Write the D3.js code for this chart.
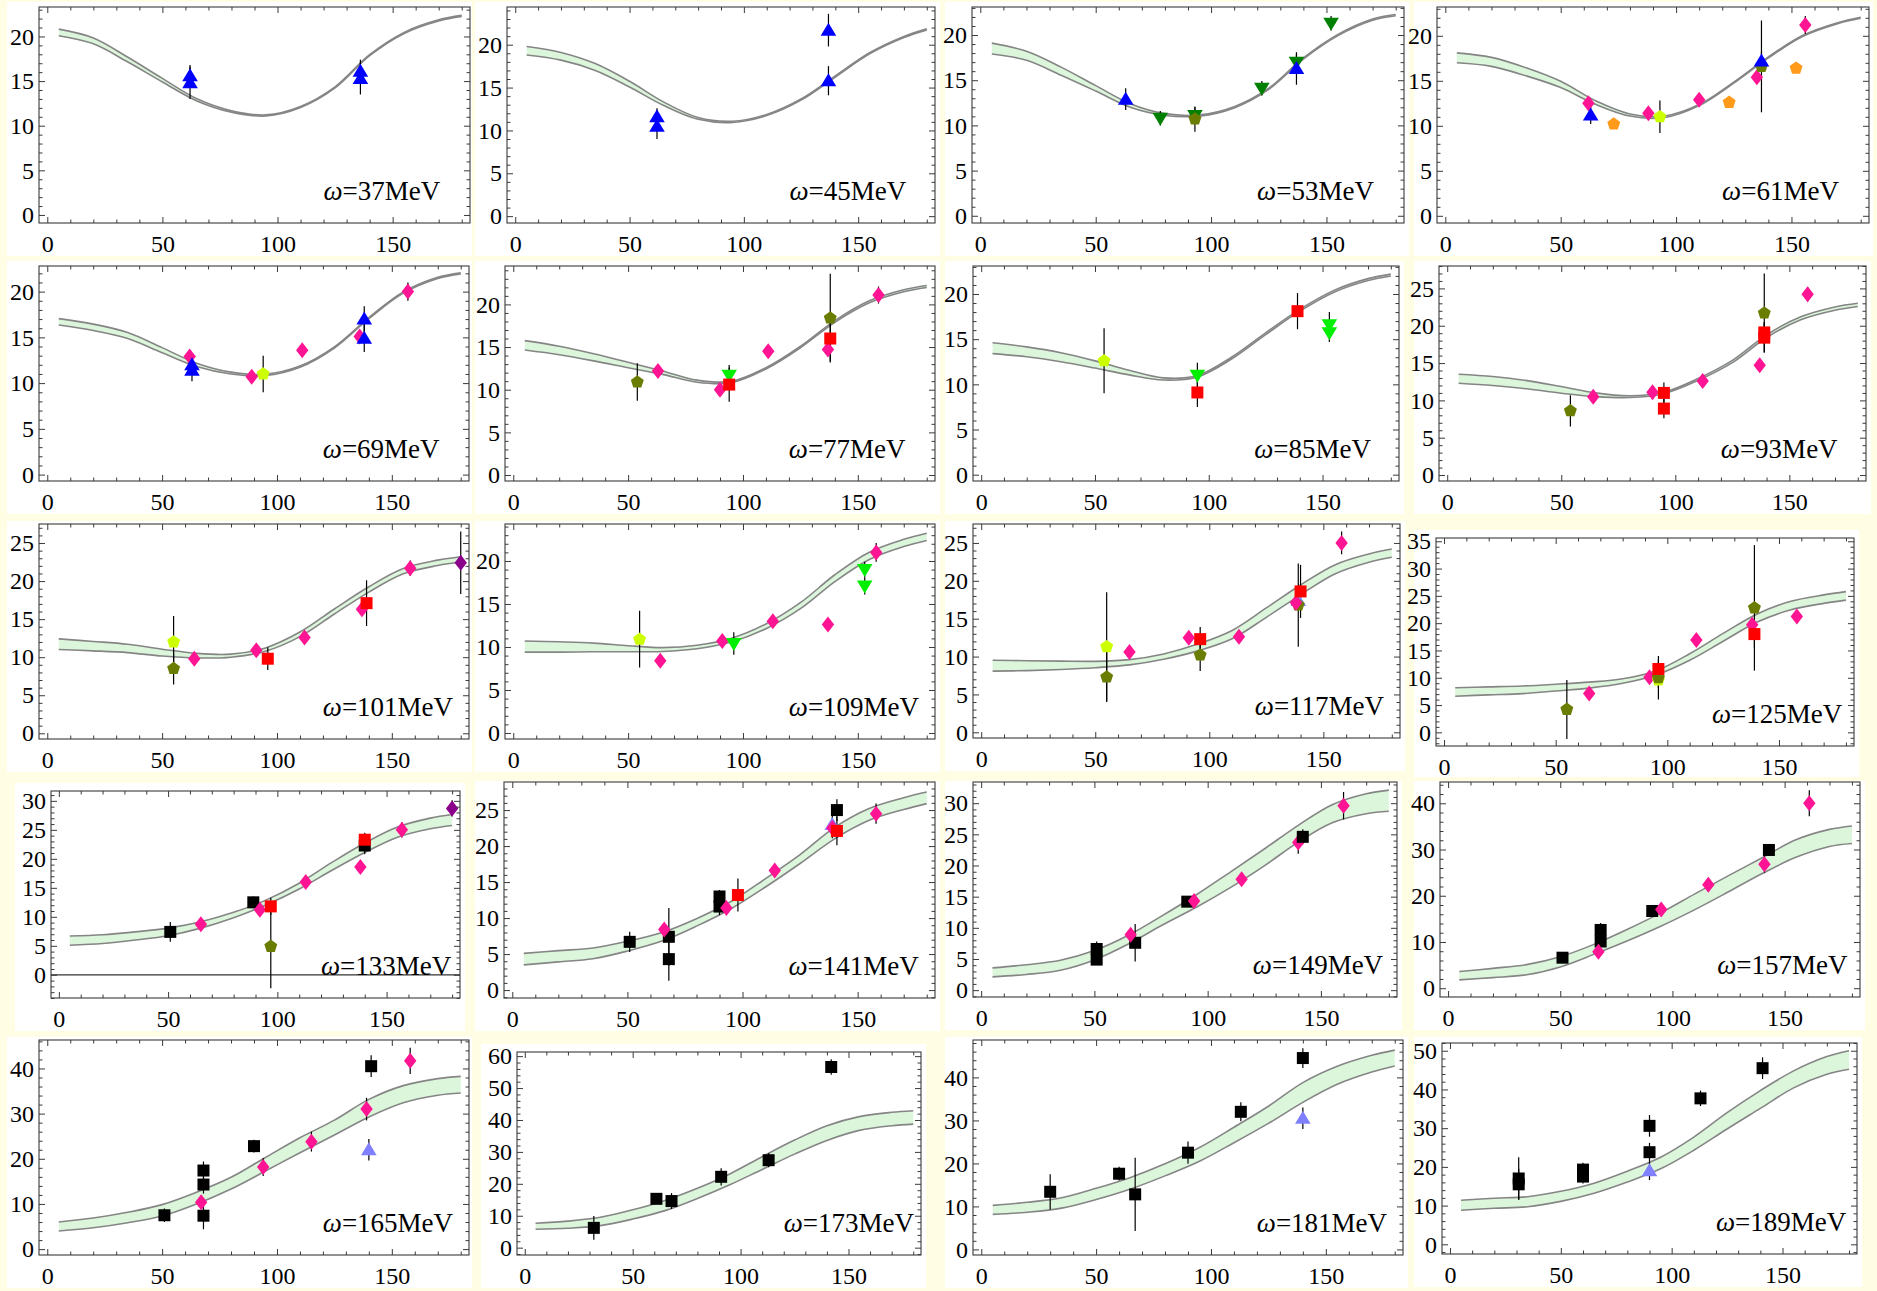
<!DOCTYPE html>
<html>
<head>
<meta charset="utf-8">
<script src="https://cdn.jsdelivr.net/npm/d3@7"></script>
<style>
  html, body { margin: 0; padding: 0; background: #fffde4; }
  svg { display: block; }
  text { font-family: "Liberation Serif", "Times New Roman", "DejaVu Serif", serif; }
</style>
</head>
<body>
<svg id="chart" width="1877" height="1291"></svg>
<script>
// ---------- data ----------
// photon energies of the twenty panels (MeV)
const energies = [37, 45, 53, 61, 69, 77, 85, 93, 101, 109, 117, 125, 133, 141, 149, 157, 165, 173, 181, 189];

// scattering angles (deg) at which the theory band is tabulated
const angles = [5, 20, 35, 50, 65, 80, 95, 110, 125, 140, 155, 170, 180];

// theory band: lower / upper edge at each angle (nb/sr)
const lo37 = [20.08, 19.17, 17.13, 14.90, 12.78, 11.52, 11.09, 12.04, 14.24, 17.84, 20.34, 21.74, 22.24];
const hi37 = [20.82, 19.83, 17.67, 15.30, 13.02, 11.68, 11.21, 12.16, 14.36, 17.96, 20.46, 21.86, 22.36];
const lo45 = [18.80, 18.20, 17.00, 15.07, 12.90, 11.30, 10.93, 11.73, 13.53, 16.23, 18.93, 20.83, 21.73];
const hi45 = [19.80, 19.10, 17.80, 15.73, 13.30, 11.50, 11.07, 11.87, 13.67, 16.37, 19.07, 20.97, 21.87];
const lo53 = [17.90, 17.20, 15.55, 13.80, 12.00, 11.10, 11.03, 11.93, 13.98, 17.33, 19.93, 21.63, 22.13];
const hi53 = [19.10, 18.20, 16.45, 14.40, 12.40, 11.30, 11.17, 12.07, 14.12, 17.47, 20.07, 21.77, 22.27];
const lo61 = [17.00, 16.60, 15.55, 14.25, 12.40, 11.08, 10.92, 12.24, 14.74, 17.54, 19.94, 21.34, 21.94];
const hi61 = [18.10, 17.60, 16.45, 14.95, 12.80, 11.32, 11.08, 12.36, 14.86, 17.66, 20.06, 21.46, 22.06];
const lo69 = [16.35, 15.75, 14.87, 13.32, 11.82, 11.00, 10.83, 11.74, 13.84, 17.04, 19.84, 21.44, 21.94];
const hi69 = [17.05, 16.45, 15.53, 13.88, 12.18, 11.20, 10.97, 11.86, 13.96, 17.16, 19.96, 21.56, 22.06];
const lo77 = [14.65, 14.10, 13.38, 12.58, 11.80, 10.88, 10.82, 12.43, 14.92, 17.90, 20.18, 21.48, 21.98];
const hi77 = [15.75, 15.10, 14.22, 13.22, 12.20, 11.12, 10.98, 12.57, 15.08, 18.10, 20.42, 21.72, 22.22];
const lo85 = [13.40, 13.05, 12.50, 11.80, 11.05, 10.48, 10.82, 12.80, 15.50, 18.10, 20.20, 21.50, 22.00];
const hi85 = [14.60, 14.15, 13.50, 12.60, 11.55, 10.72, 10.98, 13.00, 15.70, 18.30, 20.40, 21.70, 22.20];
const lo93 = [12.30, 12.00, 11.55, 10.95, 10.50, 10.38, 10.90, 12.68, 15.05, 18.42, 20.80, 22.08, 22.58];
const hi93 = [13.50, 13.20, 12.65, 11.85, 11.00, 10.62, 11.10, 12.92, 15.35, 18.78, 21.20, 22.52, 23.02];
const lo101 = [11.00, 10.83, 10.60, 10.15, 9.90, 10.00, 10.78, 12.70, 15.67, 18.55, 20.95, 22.05, 22.50];
const hi101 = [12.40, 12.07, 11.70, 11.05, 10.50, 10.40, 11.22, 13.30, 16.33, 19.25, 21.65, 22.75, 23.20];
const lo109 = [9.40, 9.40, 9.45, 9.45, 9.48, 9.80, 10.58, 12.12, 14.45, 17.60, 20.18, 21.68, 22.38];
const hi109 = [10.70, 10.60, 10.45, 10.15, 9.92, 10.20, 11.02, 12.68, 15.15, 18.40, 21.02, 22.52, 23.22];
const lo117 = [8.08, 8.15, 8.30, 8.53, 8.90, 9.65, 10.75, 12.35, 15.18, 18.15, 20.90, 22.45, 23.10];
const hi117 = [9.52, 9.45, 9.40, 9.37, 9.60, 10.35, 11.65, 13.45, 16.42, 19.45, 22.10, 23.55, 24.20];
const lo125 = [6.62, 6.87, 7.10, 7.58, 8.10, 8.98, 10.50, 13.20, 16.68, 20.15, 22.42, 23.62, 24.22];
const hi125 = [8.18, 8.33, 8.50, 8.82, 9.20, 9.82, 11.30, 14.40, 18.12, 21.65, 23.98, 25.18, 25.78];
const lo133 = [5.10, 5.40, 6.00, 6.75, 8.05, 9.83, 12.08, 14.80, 18.02, 21.08, 23.72, 25.18, 25.75];
const hi133 = [6.70, 6.90, 7.40, 8.05, 9.15, 10.77, 12.92, 15.80, 19.38, 22.72, 25.48, 27.02, 27.65];
const lo141 = [3.50, 3.92, 4.35, 5.42, 6.80, 8.88, 11.30, 14.32, 17.58, 21.00, 23.58, 25.08, 25.90];
const hi141 = [5.10, 5.48, 5.85, 6.78, 8.00, 9.92, 12.30, 15.48, 18.82, 22.60, 25.22, 26.72, 27.50];
const lo149 = [2.13, 2.52, 3.20, 4.85, 7.40, 10.45, 13.30, 16.45, 19.95, 23.75, 26.85, 28.30, 28.70];
const hi149 = [3.57, 4.08, 4.80, 6.35, 8.80, 11.95, 15.30, 18.95, 22.65, 26.45, 29.75, 31.50, 32.10];
const lo157 = [1.80, 2.30, 2.90, 4.60, 7.32, 10.25, 13.45, 17.00, 20.85, 24.80, 28.30, 30.65, 31.30];
const hi157 = [3.60, 4.30, 5.10, 6.80, 9.48, 12.75, 16.35, 20.40, 24.35, 28.20, 32.10, 34.35, 35.10];
const lo165 = [4.00, 4.72, 5.85, 7.35, 10.00, 13.30, 17.30, 21.35, 25.25, 29.25, 32.40, 34.05, 34.55];
const hi165 = [6.00, 6.88, 8.15, 9.85, 12.60, 15.90, 20.30, 24.65, 28.55, 33.15, 36.20, 37.75, 38.25];
const lo173 = [5.75, 6.10, 6.90, 8.95, 11.60, 15.40, 19.70, 24.50, 29.30, 33.60, 36.75, 38.20, 38.70];
const hi173 = [7.65, 8.30, 9.50, 11.85, 14.80, 18.60, 23.10, 28.50, 33.70, 38.20, 41.05, 42.40, 42.90];
const lo181 = [8.15, 8.65, 9.60, 11.60, 14.05, 17.10, 20.50, 24.80, 29.30, 34.20, 38.40, 41.25, 42.65];
const hi181 = [10.25, 10.95, 12.00, 14.20, 16.75, 19.90, 23.70, 28.40, 33.30, 38.80, 42.60, 45.15, 46.35];
const lo189 = [8.80, 9.30, 9.70, 11.10, 13.20, 16.10, 19.50, 24.30, 29.80, 35.10, 40.40, 43.90, 45.20];
const hi189 = [11.40, 11.90, 12.30, 13.70, 15.80, 18.90, 22.50, 27.70, 34.00, 39.70, 44.80, 48.50, 50.00];

// measurements: [angle (deg), cross section, error, data set]
const p37 = [[62, 15.6, 1.2, 'blueUp'], [62, 14.8, 1.8, 'blueUp'], [136, 16.1, 1.3, 'blueUp'], [136, 15.3, 1.8, 'blueUp']];
const p45 = [[62, 11.6, 1.0, 'blueUp'], [62, 10.5, 1.5, 'blueUp'], [137, 21.7, 1.9, 'blueUp'], [137, 15.8, 1.7, 'blueUp']];
const p53 = [[63, 12.9, 1.2, 'blueUp'], [78, 10.8, 0.8, 'greenDown'], [93, 11.1, 0.9, 'greenDown'], [93, 10.7, 1.4, 'olive'],
             [122, 14.1, 0.8, 'greenDown'], [137, 17.0, 0.9, 'greenDown'], [137, 16.3, 1.8, 'blueUp'], [152, 21.3, 0.8, 'greenDown']];
const p61 = [[62, 12.5, 0.4, 'pink'], [63, 11.2, 1.0, 'blueUp'], [73, 10.2, 0.5, 'orange'], [88, 11.4, 0.4, 'pink'],
             [93, 11.0, 1.8, 'yellow'], [110, 12.9, 0.4, 'pink'], [123, 12.6, 0.3, 'orange'], [135, 15.4, 0.5, 'pink'],
             [137, 16.6, 5.1, 'olive'], [137, 17.2, 1.0, 'blueUp'], [152, 16.4, 0.5, 'orange'], [156, 21.2, 1.0, 'pink']];
const p69 = [[62, 12.9, 0.5, 'pink'], [63, 12.0, 0.9, 'blueUp'], [63, 11.4, 1.2, 'blueUp'], [89, 10.7, 0.4, 'pink'],
             [94, 11.0, 2.0, 'yellow'], [111, 13.6, 0.5, 'pink'], [136, 15.1, 0.7, 'pink'], [138, 17.0, 1.4, 'blueUp'],
             [138, 14.9, 1.5, 'blueUp'], [157, 20.0, 1.0, 'pink']];
const p77 = [[54, 10.9, 2.2, 'olive'], [63, 12.2, 0.5, 'pink'], [90, 10.0, 0.5, 'pink'], [94, 11.7, 1.2, 'limeDown'],
             [94, 10.6, 2.0, 'red'], [111, 14.5, 0.5, 'pink'], [137, 14.7, 0.5, 'pink'], [138, 18.4, 5.2, 'olive'],
             [138, 16.0, 2.7, 'red'], [159, 21.1, 1.0, 'pink']];
const p85 = [[54, 12.6, 3.6, 'yellow'], [95, 11.0, 1.4, 'limeDown'], [95, 9.1, 1.6, 'red'], [139, 18.1, 2.0, 'red'],
             [153, 16.6, 1.4, 'limeDown'], [153, 15.7, 1.0, 'limeDown']];
const p93 = [[54, 8.6, 2.1, 'olive'], [64, 10.5, 0.5, 'pink'], [90, 11.1, 0.5, 'pink'], [95, 11.0, 1.4, 'red'],
             [95, 8.9, 1.3, 'red'], [112, 12.6, 0.5, 'pink'], [137, 14.7, 0.6, 'pink'], [139, 21.7, 5.3, 'olive'],
             [139, 19.1, 1.4, 'red'], [139, 18.4, 2.0, 'red'], [158, 24.2, 1.0, 'pink']];
const p101 = [[55, 12.0, 3.4, 'yellow'], [55, 8.5, 2.1, 'olive'], [64, 9.8, 0.5, 'pink'], [91, 10.9, 0.5, 'pink'],
              [96, 9.8, 1.5, 'red'], [112, 12.6, 0.5, 'pink'], [137, 16.3, 0.6, 'pink'], [139, 17.1, 3.0, 'red'],
              [158, 21.7, 1.0, 'pink'], [180, 22.4, 4.1, 'purple']];
const p109 = [[55, 10.9, 3.3, 'yellow'], [64, 8.4, 0.5, 'pink'], [91, 10.7, 0.5, 'pink'], [96, 10.4, 1.3, 'limeDown'],
              [113, 13.0, 0.5, 'pink'], [137, 12.6, 0.6, 'pink'], [153, 19.0, 0.9, 'limeDown'], [153, 17.1, 1.0, 'limeDown'],
              [158, 21.0, 1.1, 'pink']];
const p117 = [[55, 11.3, 7.2, 'yellow'], [55, 7.3, 3.3, 'olive'], [65, 10.6, 0.5, 'pink'], [91, 12.5, 0.5, 'pink'],
              [96, 10.2, 2.1, 'olive'], [96, 12.3, 1.6, 'red'], [113, 12.6, 0.5, 'pink'], [139, 17.4, 1.2, 'slate'],
              [139, 16.8, 5.5, 'olive'], [138, 17.1, 0.6, 'pink'], [140, 18.6, 3.5, 'red'], [158, 25.0, 1.5, 'pink']];
const p125 = [[55, 4.2, 5.4, 'olive'], [65, 7.1, 0.5, 'pink'], [92, 10.1, 0.6, 'pink'], [96, 9.6, 1.5, 'yellow'],
              [96, 10.0, 4.0, 'olive'], [96, 11.6, 1.6, 'red'], [113, 16.9, 0.6, 'pink'], [138, 19.7, 0.7, 'pink'],
              [139, 22.8, 11.5, 'olive'], [139, 18.0, 2.5, 'red'], [158, 21.2, 1.2, 'pink']];
const p133 = [[51, 7.4, 1.7, 'black'], [65, 8.7, 0.5, 'pink'], [89, 12.5, 1.0, 'black'], [92, 11.2, 0.7, 'pink'],
              [97, 4.9, 7.2, 'olive'], [97, 11.8, 1.5, 'red'], [113, 16.0, 0.8, 'pink'], [138, 18.6, 0.8, 'pink'],
              [140, 22.3, 1.5, 'black'], [140, 23.3, 1.2, 'red'], [157, 25.0, 1.3, 'pink'], [180, 28.7, 1.4, 'purple']];
const p141 = [[51, 6.7, 1.4, 'black'], [68, 7.4, 4.0, 'black'], [68, 4.3, 3.0, 'black'], [66, 8.4, 0.7, 'pink'],
              [90, 13.0, 0.9, 'black'], [90, 11.6, 1.2, 'black'], [93, 11.4, 0.8, 'pink'], [98, 13.2, 2.3, 'red'],
              [114, 16.6, 0.9, 'pink'], [139, 23.0, 1.5, 'slate'], [139, 22.5, 1.4, 'pink'], [141, 22.1, 2.0, 'red'],
              [141, 25.0, 1.5, 'black'], [158, 24.5, 1.4, 'pink']];
const p149 = [[51, 6.6, 1.2, 'black'], [51, 4.9, 0.8, 'black'], [68, 7.6, 3.0, 'black'], [66, 8.9, 1.0, 'pink'],
              [91, 14.2, 0.8, 'black'], [94, 14.3, 1.0, 'pink'], [115, 17.8, 1.1, 'pink'], [140, 23.7, 1.8, 'pink'],
              [142, 24.6, 1.2, 'black'], [160, 29.6, 2.2, 'pink']];
const p157 = [[51, 6.6, 1.0, 'black'], [68, 12.6, 1.5, 'black'], [68, 10.1, 1.0, 'black'], [67, 7.9, 1.0, 'pink'],
              [91, 16.7, 0.8, 'black'], [95, 17.0, 1.1, 'pink'], [116, 22.4, 1.5, 'pink'], [141, 26.8, 1.8, 'pink'],
              [143, 29.9, 1.2, 'black'], [161, 40.0, 2.8, 'pink']];
const p165 = [[51, 7.5, 1.5, 'black'], [68, 17.4, 2.0, 'black'], [68, 14.3, 2.0, 'black'], [68, 7.4, 3.0, 'black'],
              [67, 10.4, 1.5, 'pink'], [90, 22.8, 1.4, 'black'], [94, 18.2, 2.0, 'pink'], [115, 23.8, 2.2, 'pink'],
              [139, 31.0, 2.5, 'pink'], [140, 22.0, 2.4, 'slate'], [141, 40.5, 2.4, 'black'], [158, 41.7, 2.9, 'pink']];
const p173 = [[32, 6.2, 3.7, 'black'], [61, 15.3, 1.5, 'black'], [68, 14.6, 2.5, 'black'], [91, 22.2, 2.7, 'black'],
              [113, 27.4, 2.2, 'black'], [142, 56.6, 2.4, 'black']];
const p181 = [[30, 13.4, 4.1, 'black'], [60, 17.6, 1.6, 'black'], [67, 12.8, 8.5, 'black'], [90, 22.5, 2.6, 'black'],
              [113, 32.0, 2.2, 'black'], [140, 30.5, 2.5, 'slate'], [140, 44.5, 2.3, 'black']];
const p189 = [[31, 17.0, 5.5, 'black'], [31, 15.5, 4.0, 'black'], [60, 19.3, 1.8, 'black'], [60, 17.5, 1.8, 'black'],
              [90, 30.6, 2.8, 'black'], [90, 23.8, 2.4, 'black'], [90, 19.0, 2.4, 'slate'], [113, 37.7, 2.0, 'black'],
              [141, 45.5, 2.8, 'black']];

// axis ranges and tick labels
const xRange = [-3.6, 183.6];
const xTickLabels = [0, 50, 100, 150];
const yRanges = [[-0.9, 23.3], [-0.8, 24.4], [-0.8, 23.1], [-0.8, 23.2],
                 [-0.7, 22.8], [-0.7, 24.5], [-0.7, 23.1], [-0.8, 28.0],
                 [-0.75, 27.5], [-0.7, 24.3], [-0.75, 27.5], [-2.5, 35.6],
                 [-4.0, 31.7], [-1.1, 28.9], [-1.1, 33.4], [-1.9, 44.6],
                 [-1.3, 46.3], [-2.3, 61.3], [-1.3, 48.7], [-2.5, 52.0]];
const yTickSteps = [5, 5, 5, 5, 5, 5, 5, 5, 5, 5, 5, 5, 5, 5, 5, 10, 10, 10, 10, 10];

const bandLo = [lo37, lo45, lo53, lo61, lo69, lo77, lo85, lo93, lo101, lo109, lo117, lo125, lo133, lo141, lo149, lo157, lo165, lo173, lo181, lo189];
const bandHi = [hi37, hi45, hi53, hi61, hi69, hi77, hi85, hi93, hi101, hi109, hi117, hi125, hi133, hi141, hi149, hi157, hi165, hi173, hi181, hi189];
const panelPoints = [p37, p45, p53, p61, p69, p77, p85, p93, p101, p109, p117, p125, p133, p141, p149, p157, p165, p173, p181, p189];

// ---------- layout & styles ----------
// plot frame of each panel: [left, top, right, bottom] in px
const frames = [
  [39, 7, 470, 223], [507, 7, 935, 223], [972, 7, 1404, 223], [1437, 7, 1869, 223],
  [39, 266, 469, 481], [505, 266, 935, 481], [973, 266, 1399, 481], [1439, 266, 1866, 481],
  [39, 524, 469, 739], [505, 524, 935, 739], [973, 524, 1400, 738], [1436, 538, 1854, 746],
  [51, 791, 460, 998], [504, 782, 935, 998], [973, 782, 1397, 997], [1440, 782, 1860, 997],
  [39, 1040, 469, 1255], [517, 1052, 921, 1255], [973, 1040, 1403, 1255], [1442, 1043, 1857, 1254]
];
const colEdges = [[7, 472], [475, 940], [945, 1410], [1414, 1873]];
const rowEdges = [[2, 256], [261, 517], [521, 777], [781, 1033], [1037, 1290]];
const zeroLineEnergy = 133;

const seriesStyle = {
  blueUp:    { shape: 'triUp',   fill: '#0000ff' },
  greenDown: { shape: 'triDown', fill: '#008000' },
  limeDown:  { shape: 'triDown', fill: '#00ee00' },
  olive:     { shape: 'pent',    fill: '#6b7d00' },
  yellow:    { shape: 'pent',    fill: '#ccff00' },
  orange:    { shape: 'pent',    fill: '#ff9a1a' },
  pink:      { shape: 'diamond', fill: '#ff1493' },
  red:       { shape: 'square',  fill: '#ff0000' },
  black:     { shape: 'square',  fill: '#000000' },
  purple:    { shape: 'diamond', fill: '#8b008b' },
  slate:     { shape: 'triUp',   fill: '#8080ff' }
};

function markerPath(shape) {
  switch (shape) {
    case 'triUp':   return 'M0,-7.5L7.8,5.5L-7.8,5.5Z';
    case 'triDown': return 'M0,7.5L7.8,-5.5L-7.8,-5.5Z';
    case 'diamond': return 'M0,-8L6.2,0L0,8L-6.2,0Z';
    case 'square':  return 'M-6,-6H6V6H-6Z';
    case 'pent': {
      const r = 6.8;
      const pts = d3.range(5).map(k => {
        const a = -Math.PI / 2 + k * 2 * Math.PI / 5;
        return [r * Math.cos(a), r * Math.sin(a)];
      });
      return 'M' + pts.map(p => p[0].toFixed(2) + ',' + p[1].toFixed(2)).join('L') + 'Z';
    }
  }
}

const FONT = '"Liberation Serif", "Times New Roman", "DejaVu Serif", serif';
const svg = d3.select('#chart');
svg.append('rect').attr('width', 1877).attr('height', 1291).attr('fill', '#fffde4');
const defs = svg.append('defs');

energies.forEach((energy, i) => {
  const [fx0, fy0, fx1, fy1] = frames[i];
  const [cx0, cx1] = colEdges[i % 4];
  const [cy0, cy1] = rowEdges[Math.floor(i / 4)];

  // white panel background
  const wx0 = Math.max(cx0, fx0 - 36), wy0 = Math.max(cy0, fy0 - 8);
  const wx1 = Math.min(cx1, fx1 + 5),  wy1 = Math.min(cy1, fy1 + 33);
  svg.append('rect').attr('x', wx0).attr('y', wy0)
    .attr('width', wx1 - wx0).attr('height', wy1 - wy0).attr('fill', '#ffffff');

  const x = d3.scaleLinear().domain(xRange).range([fx0, fx1]);
  const y = d3.scaleLinear().domain(yRanges[i]).range([fy1, fy0]);

  const clipId = 'plotclip' + i;
  defs.append('clipPath').attr('id', clipId).append('rect')
    .attr('x', fx0).attr('y', fy0).attr('width', fx1 - fx0).attr('height', fy1 - fy0);

  const g = svg.append('g');
  const plot = g.append('g').attr('clip-path', `url(#${clipId})`);

  // theory band
  const lo = bandLo[i], hi = bandHi[i];
  const smooth = d3.curveCatmullRom.alpha(0.5);
  const area = d3.area()
    .x((d, j) => x(angles[j]))
    .y0((d, j) => y(lo[j]))
    .y1((d, j) => y(hi[j]))
    .curve(smooth);
  plot.append('path').datum(angles).attr('d', area).attr('fill', '#dcf6dc');
  [lo, hi].forEach(edge => {
    const line = d3.line()
      .x((d, j) => x(angles[j]))
      .y((d, j) => y(edge[j]))
      .curve(smooth);
    plot.append('path').datum(angles).attr('d', line)
      .attr('fill', 'none').attr('stroke', '#858585').attr('stroke-width', 1.6);
  });

  if (energy === zeroLineEnergy) {
    plot.append('line').attr('x1', fx0).attr('x2', fx1)
      .attr('y1', y(0)).attr('y2', y(0))
      .attr('stroke', '#333').attr('stroke-width', 1.2);
  }

  // measurements with error bars
  panelPoints[i].forEach(([ang, val, err, set]) => {
    const st = seriesStyle[set];
    plot.append('line')
      .attr('x1', x(ang)).attr('x2', x(ang))
      .attr('y1', y(val - err)).attr('y2', y(val + err))
      .attr('stroke', '#000').attr('stroke-width', 1.2);
    g.append('path')
      .attr('d', markerPath(st.shape))
      .attr('transform', `translate(${x(ang)},${y(val)})`)
      .attr('fill', st.fill);
  });

  // frame
  g.append('rect').attr('x', fx0).attr('y', fy0)
    .attr('width', fx1 - fx0).attr('height', fy1 - fy0)
    .attr('fill', 'none').attr('stroke', '#3a3a3a').attr('stroke-width', 1.1);

  // ticks on all four sides, labels bottom and left
  const [yMin, yMax] = yRanges[i];
  const step = yTickSteps[i];
  const minorStep = step === 5 ? 1 : 2;
  const yMajor = d3.range(Math.ceil(yMin / step) * step, yMax + 1e-9, step);
  const yMinor = d3.range(Math.ceil(yMin / minorStep) * minorStep, yMax + 1e-9, minorStep)
    .filter(v => Math.abs(v / step - Math.round(v / step)) > 1e-6);
  const xMinor = d3.range(0, 181, 10).filter(v => v % 50 !== 0);

  function addAxis(axisFn, scale, transform, values, len, withLabels, pad) {
    const ax = axisFn(scale).tickValues(values)
      .tickSizeInner(-len).tickSizeOuter(0).tickPadding(pad)
      .tickFormat(withLabels ? d3.format('d') : () => '');
    const gg = g.append('g').attr('transform', transform).call(ax);
    gg.select('.domain').remove();
    gg.selectAll('line').attr('stroke', '#3a3a3a').attr('stroke-width', 1);
    gg.selectAll('text').attr('font-family', FONT).attr('font-size', 24).attr('fill', '#000');
  }
  addAxis(d3.axisBottom, x, `translate(0,${fy1})`, xTickLabels, 6, true, 12);
  addAxis(d3.axisBottom, x, `translate(0,${fy1})`, xMinor, 3.5, false, 0);
  addAxis(d3.axisTop, x, `translate(0,${fy0})`, xTickLabels, 6, false, 0);
  addAxis(d3.axisTop, x, `translate(0,${fy0})`, xMinor, 3.5, false, 0);
  addAxis(d3.axisLeft, y, `translate(${fx0},0)`, yMajor, 6, true, 5);
  addAxis(d3.axisLeft, y, `translate(${fx0},0)`, yMinor, 3.5, false, 0);
  addAxis(d3.axisRight, y, `translate(${fx1},0)`, yMajor, 6, false, 0);
  addAxis(d3.axisRight, y, `translate(${fx1},0)`, yMinor, 3.5, false, 0);

  // energy label
  const label = g.append('text')
    .attr('x', fx0 + 0.66 * (fx1 - fx0))
    .attr('y', fy1 - 23)
    .attr('font-family', FONT).attr('font-size', 27).attr('fill', '#000');
  label.append('tspan').attr('font-style', 'italic').text('ω');
  label.append('tspan').text('=' + energy + 'MeV');
});
</script>
</body>
</html>
